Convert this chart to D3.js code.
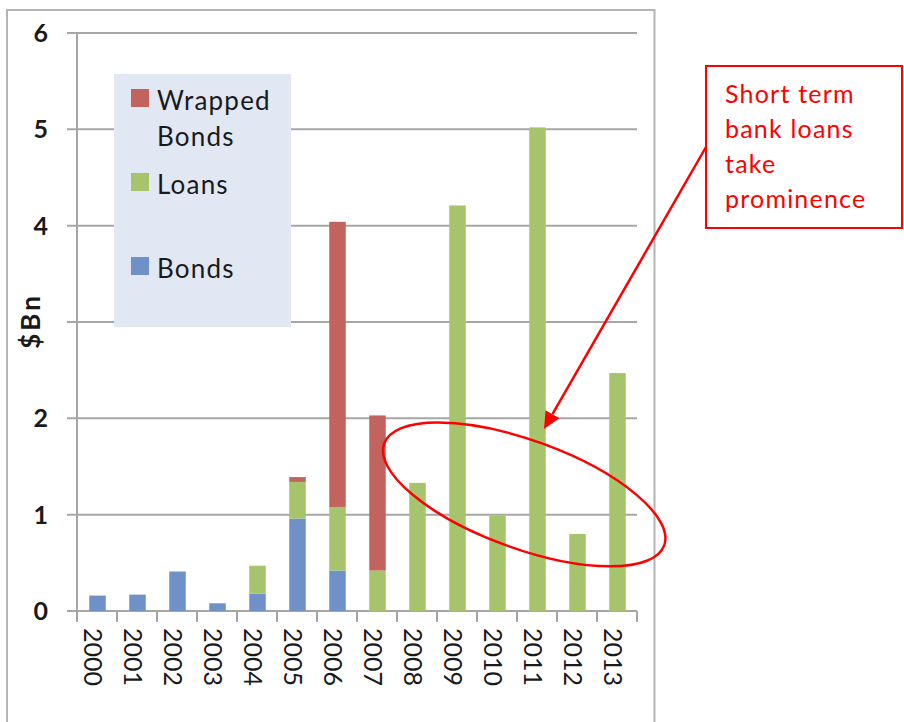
<!DOCTYPE html>
<html>
<head>
<meta charset="utf-8">
<script src="https://cdn.jsdelivr.net/npm/d3@7"></script>
<style>
  body { margin: 0; background: #fff; }
  svg { display: block; font-family: Lato, "Open Sans", sans-serif; }
</style>
</head>
<body>
<svg id="chart" width="904" height="722"></svg>
<script>
// Issuance by year, $Bn
const years = ["2000","2001","2002","2003","2004","2005","2006","2007","2008","2009","2010","2011","2012","2013"];
const bonds        = [0.16, 0.17, 0.41, 0.08, 0.18, 0.96, 0.42, 0, 0, 0, 0, 0, 0, 0];
const loans        = [0, 0, 0, 0, 0.29, 0.38, 0.66, 0.42, 1.33, 4.21, 0.99, 5.02, 0.80, 2.47];
const wrappedBonds = [0, 0, 0, 0, 0, 0.05, 2.96, 1.61, 0, 0, 0, 0, 0, 0];
const yTicks = [0, 1, 2, 3, 4, 5, 6];
const seriesKeys = ["bonds", "loans", "wrapped"];
const seriesLabels = { bonds: ["Bonds"], loans: ["Loans"], wrapped: ["Wrapped", "Bonds"] };
const seriesColors = { bonds: "#6f91c7", loans: "#a6c46b", wrapped: "#c2635e" };
const legendOrder = ["wrapped", "loans", "bonds"];
const noteLines = ["Short term", "bank loans", "take", "prominence"];

const rows = years.map((yr, i) => ({ year: yr, bonds: bonds[i], loans: loans[i], wrapped: wrappedBonds[i] }));

const svg = d3.select("#chart");
const plot = { left: 77, right: 637, top: 33, bottom: 611 };
const gridColor = "#a6a6a6";

// outer chart frame
svg.append("path")
  .attr("d", `M7,722 V10 H654.5 V722`)
  .attr("fill", "none").attr("stroke", "#b4b4b4").attr("stroke-width", 2);

const x = d3.scaleBand().domain(years).range([plot.left, plot.right]).padding(0);
const xIdx = d3.scaleLinear().domain([0, years.length]).range([plot.left, plot.right]);
const y = d3.scaleLinear().domain([0, 6]).range([plot.bottom, plot.top]);

// horizontal gridlines with short outside ticks
svg.append("g").selectAll("line").data(yTicks).join("line")
  .attr("x1", plot.left - 10).attr("x2", plot.right)
  .attr("y1", d => y(d)).attr("y2", d => y(d))
  .attr("stroke", gridColor).attr("stroke-width", 2);

// vertical axis line
svg.append("line")
  .attr("x1", plot.left).attr("x2", plot.left)
  .attr("y1", y(6)).attr("y2", plot.bottom + 1)
  .attr("stroke", gridColor).attr("stroke-width", 2);

// category tick marks
svg.append("g").selectAll("line").data(d3.range(years.length + 1)).join("line")
  .attr("x1", d => xIdx(d)).attr("x2", d => xIdx(d))
  .attr("y1", plot.bottom).attr("y2", plot.bottom + 11)
  .attr("stroke", gridColor).attr("stroke-width", 2);

// y tick labels
svg.append("g").selectAll("text").data(yTicks).join("text")
  .attr("x", 48).attr("y", d => y(d))
  .attr("dy", "0.36em")
  .attr("text-anchor", "end")
  .attr("font-size", 25).attr("font-weight", 700).attr("fill", "#1a1a1a")
  .text(d => d);

// y axis title, on an opaque patch that sits over the middle tick label
const titleG = svg.append("g").attr("transform", `translate(40,${y(3) - 1}) rotate(-90)`);
titleG.append("rect")
  .attr("x", -30).attr("y", -24).attr("width", 60).attr("height", 32)
  .attr("fill", "#fff");
titleG.append("text")
  .attr("text-anchor", "middle")
  .attr("font-size", 26).attr("font-weight", 700).attr("letter-spacing", 3)
  .attr("fill", "#1a1a1a")
  .text("$Bn");

// x tick labels, rotated to read downward
svg.append("g").selectAll("text").data(years).join("text")
  .attr("transform", d => `translate(${x(d) + x.bandwidth() / 2 - 4},${plot.bottom + 17}) rotate(90)`)
  .attr("dy", "0.36em")
  .attr("text-anchor", "start")
  .attr("font-size", 25).attr("fill", "#1a1a1a")
  .text(d => d);

// stacked bars
const stacked = d3.stack().keys(seriesKeys)(rows);
const barW = 16.5;
svg.append("g").selectAll("g").data(stacked).join("g")
  .attr("fill", s => seriesColors[s.key])
  .selectAll("rect").data(s => s).join("rect")
  .attr("x", d => x(d.data.year) + (x.bandwidth() - barW) / 2 + 0.5)
  .attr("width", barW)
  .attr("y", d => y(d[1]))
  .attr("height", d => Math.max(0, y(d[0]) - y(d[1])));

// legend
const legend = svg.append("g").attr("transform", "translate(114,74)");
legend.append("rect").attr("width", 177).attr("height", 253).attr("fill", "#e1e7f3");
const legendRows = [{ top: 15 }, { top: 99 }, { top: 183 }];
legendOrder.forEach((key, i) => {
  const row = legendRows[i];
  legend.append("rect")
    .attr("x", 17).attr("y", row.top).attr("width", 18).attr("height", 18)
    .attr("fill", seriesColors[key]);
  seriesLabels[key].forEach((line, j) => {
    legend.append("text")
      .attr("x", 43).attr("y", row.top + 21 + j * 36)
      .attr("font-size", 26).attr("letter-spacing", 1.2).attr("fill", "#1a1a1a")
      .text(line);
  });
});

// callout ellipse around the post-2008 loan bars
const red = "#ff0000";
const ellC = [xIdx(11.18), y(1.21)];
svg.append("ellipse")
  .attr("cx", 0).attr("cy", 0).attr("rx", 149).attr("ry", 54)
  .attr("transform", `translate(${ellC[0]},${ellC[1]}) rotate(20)`)
  .attr("fill", "none").attr("stroke", red).attr("stroke-width", 2.5);

// note box
const box = { x: 706, y: 66, w: 196, h: 162 };
svg.append("rect")
  .attr("x", box.x).attr("y", box.y).attr("width", box.w).attr("height", box.h)
  .attr("fill", "#fff").attr("stroke", red).attr("stroke-width", 2);
svg.append("g").selectAll("text").data(noteLines).join("text")
  .attr("x", box.x + 19).attr("y", (d, i) => box.y + 37 + i * 35)
  .attr("font-size", 25).attr("letter-spacing", 1.2).attr("fill", red)
  .text(d => d);

// arrow from note box to the bars
const from = [box.x, 147];
const tip = [xIdx(11.675), y(1.89)];
const ang = Math.atan2(tip[1] - from[1], tip[0] - from[0]);
const headLen = 17, headHalf = 8;
const base = [tip[0] - headLen * Math.cos(ang), tip[1] - headLen * Math.sin(ang)];
svg.append("line")
  .attr("x1", from[0]).attr("y1", from[1]).attr("x2", base[0]).attr("y2", base[1])
  .attr("stroke", red).attr("stroke-width", 2.5);
const px = -Math.sin(ang), py = Math.cos(ang);
svg.append("path")
  .attr("d", d3.line()([
    tip,
    [base[0] + px * headHalf, base[1] + py * headHalf],
    [base[0] - px * headHalf, base[1] - py * headHalf]
  ]) + "Z")
  .attr("fill", red);
</script>
</body>
</html>
